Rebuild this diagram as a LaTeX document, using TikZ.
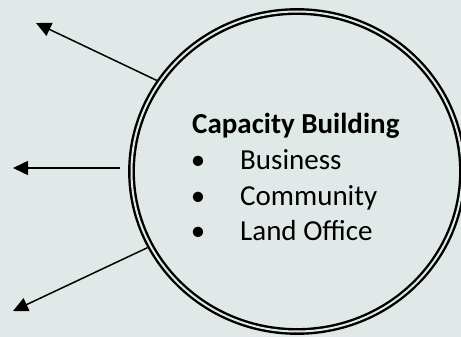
\documentclass[tikz,border=0pt]{standalone}
\usepackage{fontspec}
\setmainfont{Carlito}
\usetikzlibrary{shapes.geometric,arrows.meta}
\definecolor{bg}{HTML}{E1E9E8}
\begin{document}
\begin{tikzpicture}[x=1pt,y=-1pt,
  arr/.style={line width=1.5pt, -{Triangle[length=15pt,width=14pt]}},
  txt/.style={anchor=base west, inner sep=0pt, font=\fontsize{29}{34}\selectfont},
  bul/.style={anchor=base, inner sep=0pt, font=\fontsize{29}{34}\selectfont}]
\fill[bg] (0,0) rectangle (461,337);
\useasboundingbox (0,0) rectangle (461,337);
\clip (0,0) rectangle (461,337);
\node[draw, ellipse, double=bg, double distance=2pt, line width=2.4pt,
  minimum width=331pt, minimum height=320pt, inner sep=0pt, outer sep=3.4pt] (c) at (297,171.5) {};
\node[txt, font=\fontsize{29}{34}\selectfont\bfseries] (title) at (192,134) {Capacity Building};
\node[bul] (b1) at (198,169.5) {•};
\node[bul] (b2) at (198,205) {•};
\node[bul] (b3) at (198,240.5) {•};
\node[txt] (i1) at (240,169.5) {Business};
\node[txt] (i2) at (240,205) {Community};
\node[txt] (i3) at (240,240.5) {Land Office};
\coordinate (t1) at (36,23);
\coordinate (t2) at (13,168);
\coordinate (t3) at (13,311);
\draw[arr] (c.147.9) -- (t1);
\draw[arr] ([shift={(-8pt,3.5pt)}]c.west) -- (t2);
\draw[arr] (c.207.8) -- (t3);
\end{tikzpicture}
\end{document}
